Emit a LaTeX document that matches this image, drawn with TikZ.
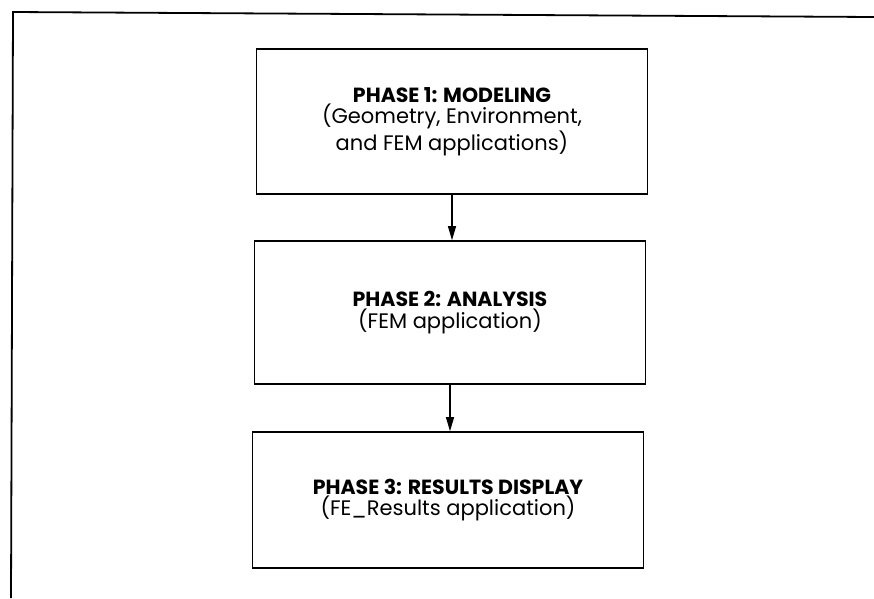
\documentclass[tikz,border=0pt]{standalone}
\usepackage{fontspec}
\setmainfont{Poppins}
\usetikzlibrary{arrows.meta}
\newcommand{\phasehead}[1]{{\fontsize{20.5}{21.5}\selectfont\bfseries #1}}
\begin{document}
\begin{tikzpicture}[x=1pt,y=-1pt,
  phase/.style={draw=black,line width=1.6pt,minimum width=391pt,align=center,
    font=\fontsize{21}{21.5}\selectfont,inner sep=0pt},
  flow/.style={line width=1.1pt,-{Triangle[length=14pt,width=8pt]}},
  frameline/.style={line width=1.8pt}]
  \useasboundingbox (0,0) rectangle (874,598);
  % outer frame, only its top and left sides are visible
  \coordinate (ftl) at (13,12);
  \coordinate (ftr) at (874,17);
  \coordinate (fbl) at (11,598);
  \draw[frameline] (ftr) -- (ftl) -- (fbl);
  % the three phases
  \node[phase,minimum height=145pt] (p1) at (452,121.5)
    {\phasehead{PHASE 1: MODELING}\\(Geometry, Environment,\\and FEM applications)};
  \node[phase,minimum height=143pt] (p2) at (450,312.5)
    {\phasehead{PHASE 2: ANALYSIS}\\(FEM application)};
  \node[phase,minimum height=136pt] (p3) at (448,500)
    {\phasehead{PHASE 3: RESULTS DISPLAY}\\(FE\_Results application)};
  \draw[flow] (p1.south) -- (p1.south |- p2.north);
  \draw[flow] (p2.south) -- (p2.south |- p3.north);
\end{tikzpicture}
\end{document}
